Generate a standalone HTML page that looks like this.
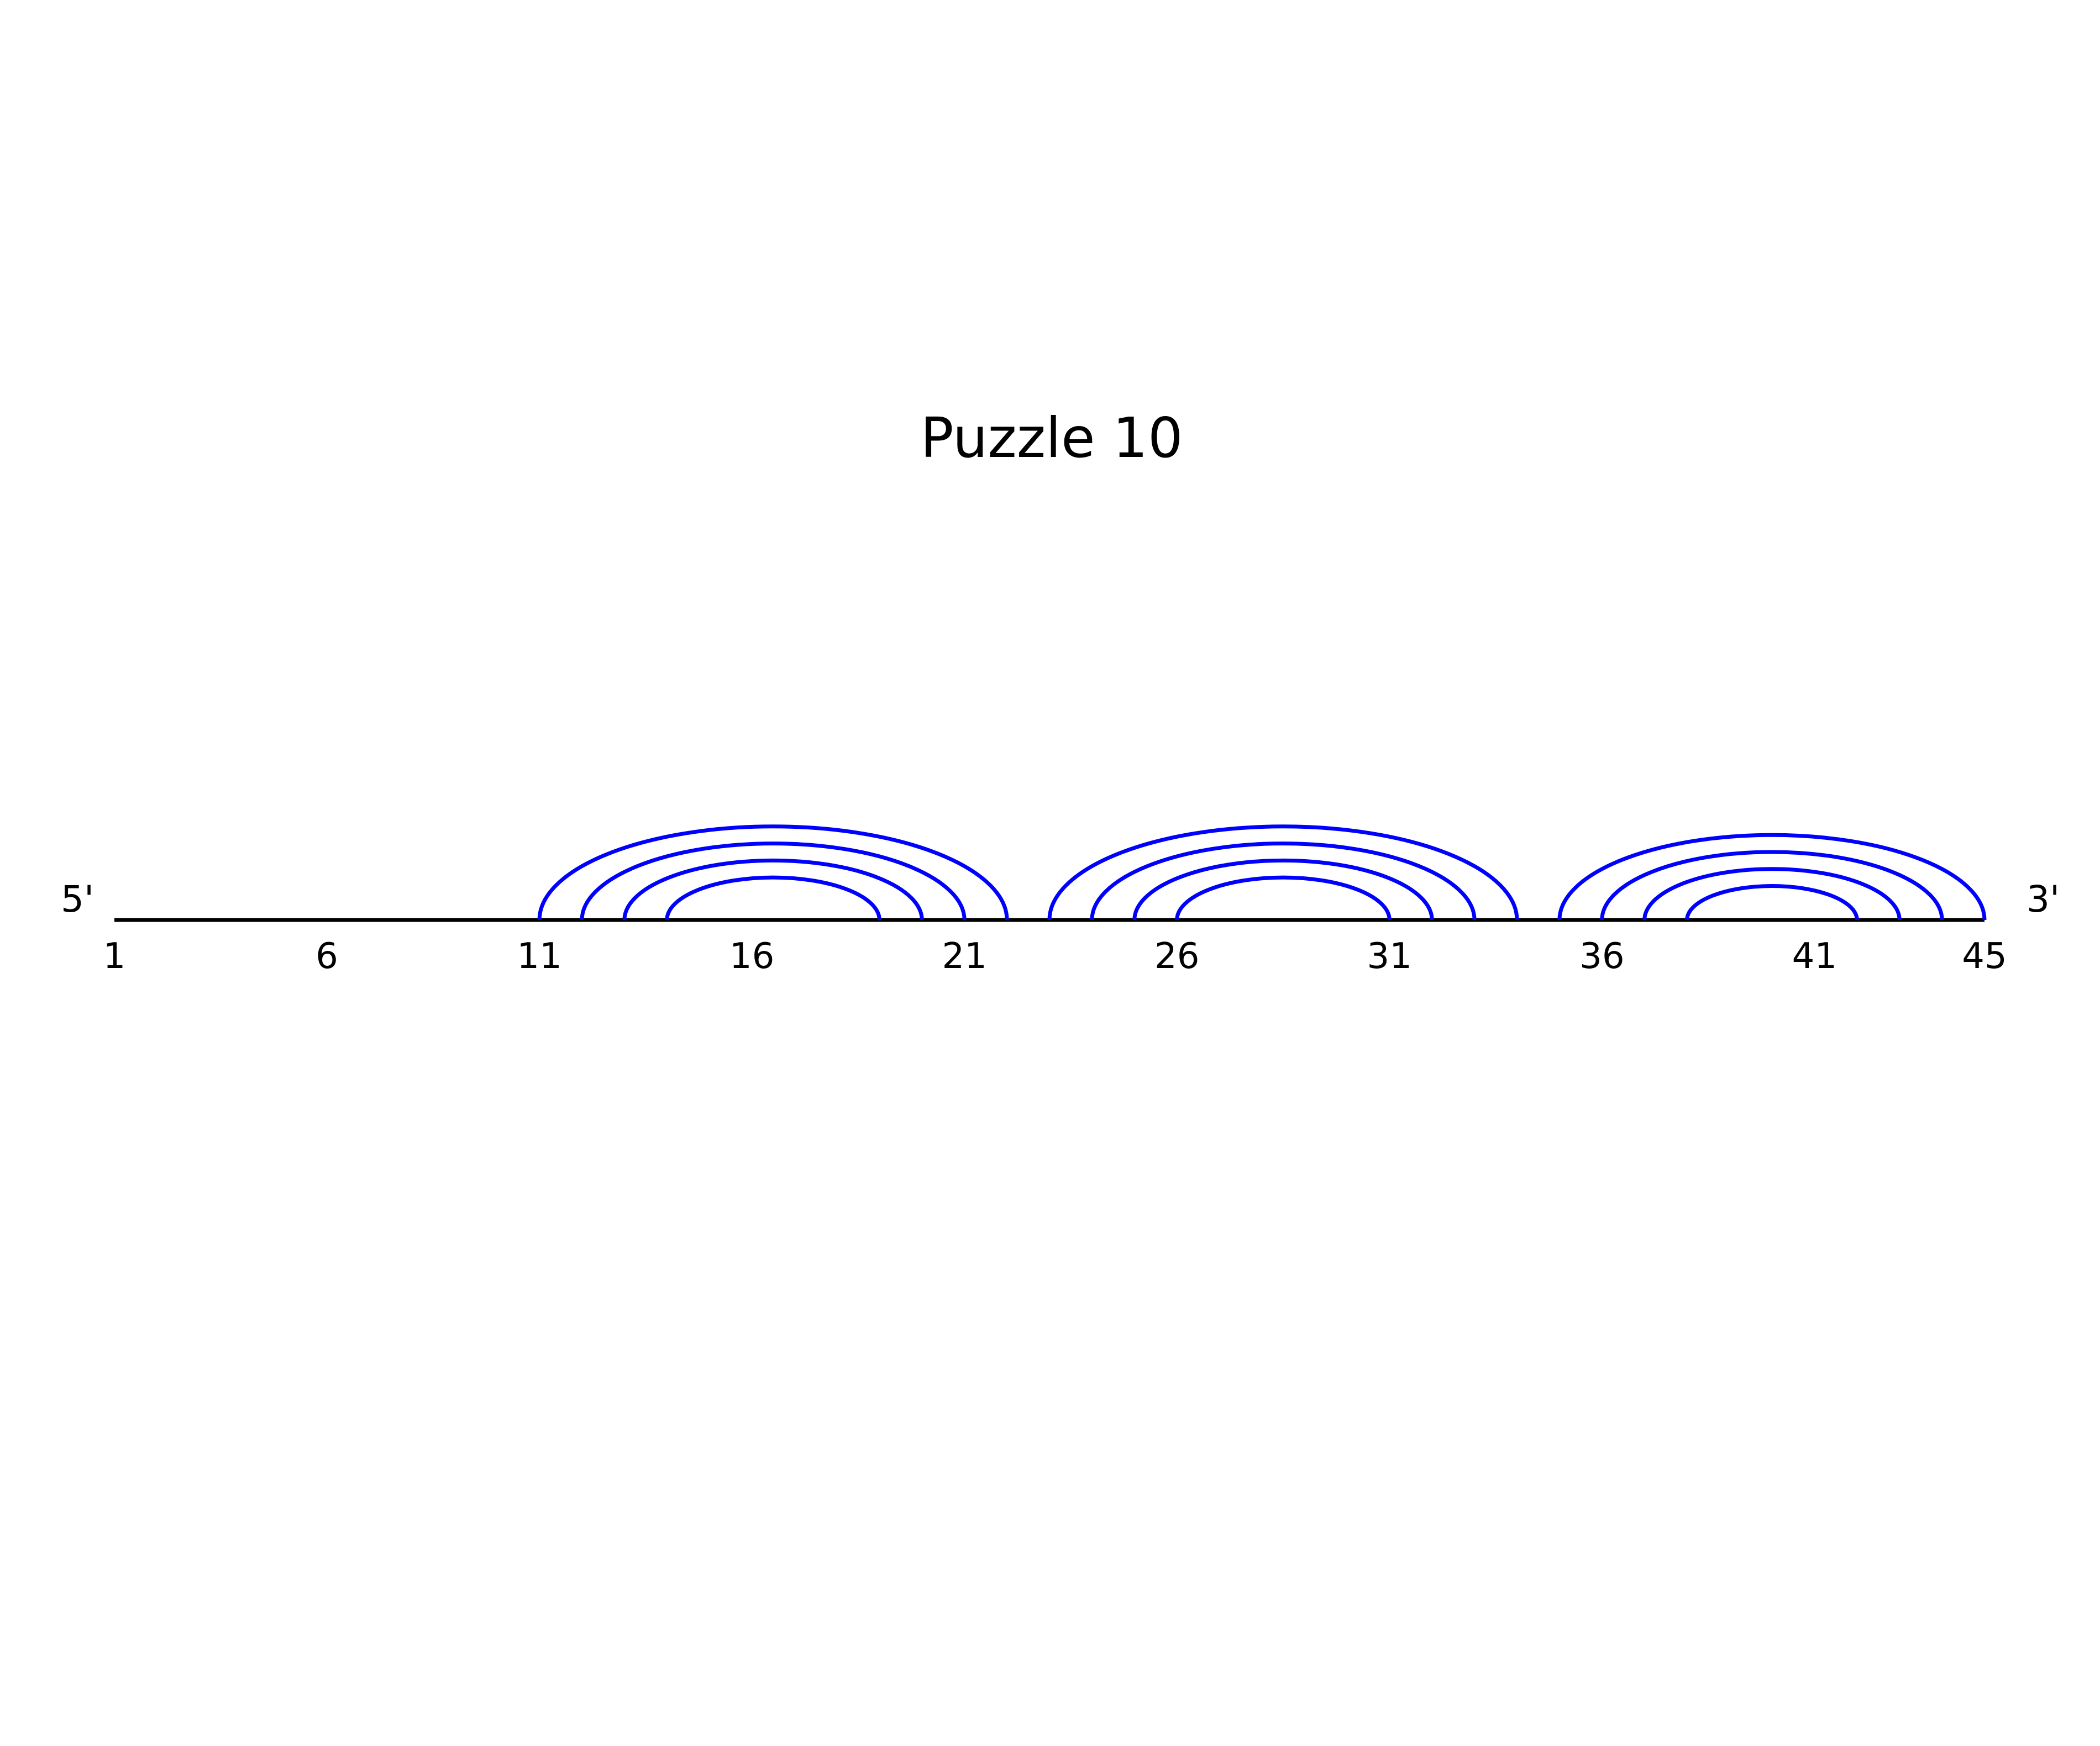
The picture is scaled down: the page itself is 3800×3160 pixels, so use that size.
<!DOCTYPE html>
<html><head><meta charset="utf-8"><style>
html,body{margin:0;padding:0;background:#fff;}
svg{display:block;}
text{font-family:"DejaVu Sans","Liberation Sans",sans-serif;fill:#000;}
</style></head><body>
<svg id="chart" width="3800" height="3160" viewBox="0 0 3800 3160" xmlns="http://www.w3.org/2000/svg">
<rect width="3800" height="3160" fill="#fff"/>
<text x="1903" y="827" font-size="100" text-anchor="middle">Puzzle 10</text>
<text x="110" y="1650" font-size="66">5'</text>
<text x="3667" y="1650" font-size="66">3'</text>
<g id="arcs"></g>
<g id="ticks"></g>
</svg>
<script>
const seqLength = 45;
const pairStarts = [11,12,13,14,23,24,25,26,35,36,37,38];
const pairEnds   = [22,21,20,19,34,33,32,31,45,44,43,42];
const tickLabels = [1,6,11,16,21,26,31,36,41,45];

const X0 = 207, X1 = 3591, BASE = 1665;
function xPos(i){ return X0 + (i-1)*(X1-X0)/(seqLength-1); }
const NS = "http://www.w3.org/2000/svg";
const svg = document.getElementById('chart');
const arcs = document.getElementById('arcs');
const ticks = document.getElementById('ticks');

const bb = document.createElementNS(NS,'line');
bb.setAttribute('x1', xPos(1)); bb.setAttribute('x2', xPos(seqLength));
bb.setAttribute('y1', BASE); bb.setAttribute('y2', BASE);
bb.setAttribute('stroke', '#000'); bb.setAttribute('stroke-width', 7);


svg.insertBefore(bb, arcs);

for (let k = 0; k < pairStarts.length; k++) {
  const a = xPos(pairStarts[k]), b = xPos(pairEnds[k]);
  const rx = (b - a) / 2, ry = rx * 0.4;
  const p = document.createElementNS(NS,'path');
  p.setAttribute('d', `M${a},${BASE} A${rx},${ry} 0 0 1 ${b},${BASE}`);
  p.setAttribute('fill', 'none');
  p.setAttribute('stroke', '#0000ff');
  p.setAttribute('stroke-width', 7);
  
  
  arcs.appendChild(p);
}

for (const t of tickLabels) {
  const tx = document.createElementNS(NS,'text');
  tx.setAttribute('x', xPos(t));
  tx.setAttribute('y', 1752);
  tx.setAttribute('font-size', 64);
  tx.setAttribute('text-anchor', 'middle');
  tx.textContent = t;
  
  
  ticks.appendChild(tx);
}
</script>
</body></html>
